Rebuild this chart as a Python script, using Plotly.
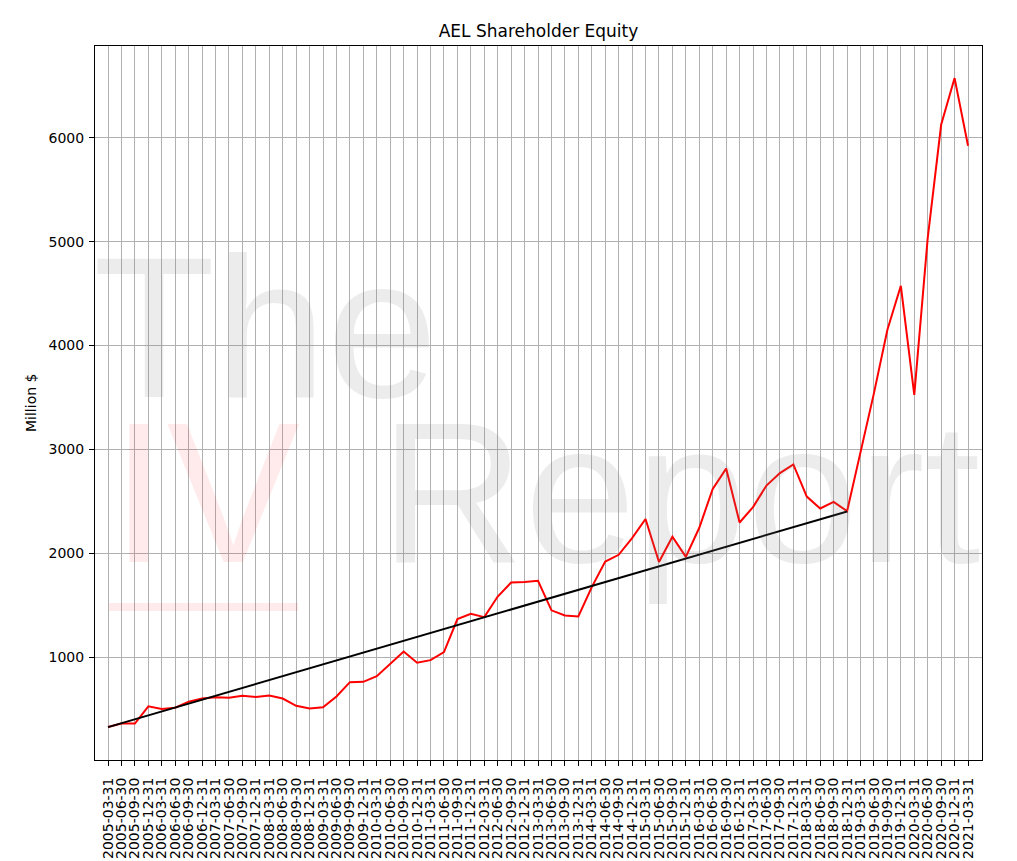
import plotly.graph_objects as go

# ---- data ----
quarters = [
    "2005-03-31", "2005-06-30", "2005-09-30", "2005-12-31",
    "2006-03-31", "2006-06-30", "2006-09-30", "2006-12-31",
    "2007-03-31", "2007-06-30", "2007-09-30", "2007-12-31",
    "2008-03-31", "2008-06-30", "2008-09-30", "2008-12-31",
    "2009-03-31", "2009-06-30", "2009-09-30", "2009-12-31",
    "2010-03-31", "2010-06-30", "2010-09-30", "2010-12-31",
    "2011-03-31", "2011-06-30", "2011-09-30", "2011-12-31",
    "2012-03-31", "2012-06-30", "2012-09-30", "2012-12-31",
    "2013-03-31", "2013-06-30", "2013-09-30", "2013-12-31",
    "2014-03-31", "2014-06-30", "2014-09-30", "2014-12-31",
    "2015-03-31", "2015-06-30", "2015-09-30", "2015-12-31",
    "2016-03-31", "2016-06-30", "2016-09-30", "2016-12-31",
    "2017-03-31", "2017-06-30", "2017-09-30", "2017-12-31",
    "2018-03-31", "2018-06-30", "2018-09-30", "2018-12-31",
    "2019-03-31", "2019-06-30", "2019-09-30", "2019-12-31",
    "2020-03-31", "2020-06-30", "2020-09-30", "2020-12-31",
    "2021-03-31",
]

equity = [
    325, 359, 359, 525, 500, 511, 570, 600,
    612, 607, 626, 616, 630, 600, 530, 504,
    515, 620, 758, 761, 816, 935, 1053, 945,
    970, 1047, 1365, 1416, 1384, 1583, 1718, 1722,
    1735, 1450, 1400, 1390, 1673, 1920, 1985, 2145,
    2330, 1915, 2158, 1965, 2245, 2620, 2815, 2296,
    2444, 2652, 2772, 2855, 2546, 2431, 2495, 2405,
    2980, 3542, 4152, 4576, 3526, 5035, 6127, 6577,
    5925,
]

trend_quarters = ["2005-03-31", "2018-12-31"]
trend_values = [325, 2402]

y_ticks = [1000, 2000, 3000, 4000, 5000, 6000]

title_text = "AEL Shareholder Equity"
y_label = "Million $"

# ---- layout geometry (pixels) ----
W, H = 1017, 861
PL, PR, PT, PB = 95, 982, 46, 760
pw, ph = PR - PL, PB - PT


def px(x):
    return (x - PL) / pw


def py(y):
    return (PB - y) / ph


fig = go.Figure()
fig.add_trace(go.Scatter(
    x=quarters, y=equity, mode="lines",
    line=dict(color="#ff0000", width=2), showlegend=False,
))
fig.add_trace(go.Scatter(
    x=trend_quarters, y=trend_values, mode="lines",
    line=dict(color="#000000", width=2), showlegend=False,
))

axis_common = dict(
    showline=True, linecolor="black", linewidth=1, mirror=True,
    ticks="outside", ticklen=5, tickwidth=1, tickcolor="black",
    showgrid=True, gridcolor="#b0b0b0", gridwidth=1,
    tickfont=dict(family="DejaVu Sans", size=14, color="black"),
    zeroline=False,
)

fig.update_layout(
    width=W, height=H,
    margin=dict(l=PL, r=W - PR, t=PT, b=H - PB, autoexpand=False),
    paper_bgcolor="white", plot_bgcolor="white",
    title=dict(text=title_text, x=538.5 / W, xanchor="center",
               y=1 - 31 / H, yanchor="middle",
               font=dict(family="DejaVu Sans", size=17, color="black")),
    xaxis=dict(type="category", tickmode="array", tickvals=quarters,
               ticktext=quarters, tickangle=-90, ticklabelstandoff=6,
               range=[-0.97, 65.04], automargin=False, **axis_common),
    yaxis=dict(range=[8, 6886], tickmode="array", tickvals=y_ticks,
               ticklabelstandoff=2, automargin=False, **axis_common),
    font=dict(family="DejaVu Sans", color="black"),
)

# y axis label
fig.add_annotation(
    text=y_label, xref="paper", yref="paper", x=px(31), y=py(403),
    xanchor="center", yanchor="middle", textangle=-90, showarrow=False,
    font=dict(family="DejaVu Sans", size=14, color="black"),
)

# watermark
WM_SIZE = 200
fig.add_annotation(
    text="The", xref="paper", yref="paper", x=px(91), y=py(327),
    xanchor="left", yanchor="middle", showarrow=False,
    font=dict(family="Liberation Sans", size=WM_SIZE, color="rgba(128,128,128,0.15)"),
)
fig.add_annotation(
    text="IV", xref="paper", yref="paper", x=px(109), y=py(492),
    xanchor="left", yanchor="middle", showarrow=False,
    font=dict(family="Liberation Sans", size=WM_SIZE, color="rgba(255,0,0,0.08)"),
)
fig.add_annotation(
    text="Report", xref="paper", yref="paper", x=px(378), y=py(492),
    xanchor="left", yanchor="middle", showarrow=False,
    font=dict(family="Liberation Sans", size=WM_SIZE, color="rgba(128,128,128,0.15)"),
)
fig.add_shape(
    type="rect", xref="paper", yref="paper",
    x0=px(109), x1=px(298), y0=py(611), y1=py(603),
    fillcolor="rgba(255,0,0,0.08)", line=dict(width=0), layer="above",
)

fig.write_html(
    "out.html",
    config={"displayModeBar": False},
    post_script="document.body.style.margin='0';document.body.style.padding='0';"
                "document.body.style.overflow='hidden';",
)
